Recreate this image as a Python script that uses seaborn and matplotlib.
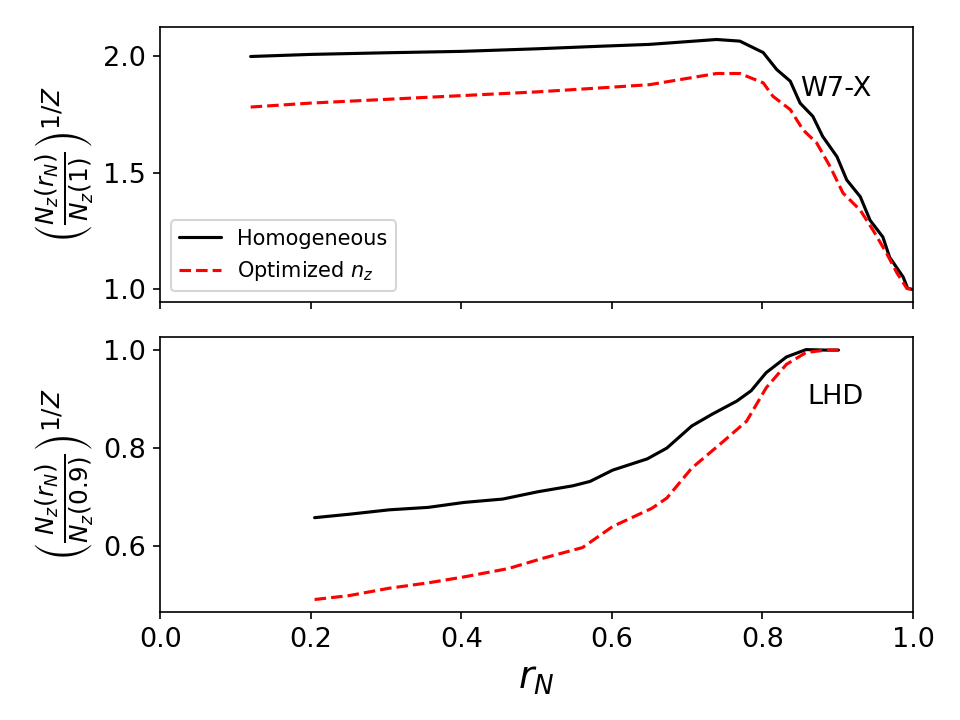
import pandas as pd
import matplotlib
matplotlib.use("Agg")
import matplotlib.pyplot as plt
import seaborn as sns

# --- W7-X (top panel) ---
r_w7x_hom = [0.12, 0.2, 0.3, 0.4, 0.5, 0.584, 0.65, 0.739, 0.770, 0.801, 0.819, 0.837, 0.850,
             0.867, 0.880, 0.899, 0.912, 0.930, 0.943, 0.960, 0.969, 0.987, 0.993, 1.0]
n_w7x_hom = [2.0, 2.009, 2.016, 2.022, 2.033, 2.044, 2.052, 2.073, 2.066, 2.017, 1.944, 1.894, 1.80,
             1.743, 1.657, 1.57, 1.47, 1.398, 1.297, 1.225, 1.138, 1.053, 1.004, 1.0]

r_w7x_opt = [0.12, 0.2, 0.3, 0.4, 0.5, 0.584, 0.65, 0.739, 0.770, 0.801, 0.814, 0.837, 0.854,
             0.872, 0.890, 0.907, 0.930, 0.947, 0.965, 0.979, 0.992, 1.0]
n_w7x_opt = [1.783, 1.80, 1.816, 1.832, 1.848, 1.865, 1.879, 1.927, 1.927, 1.887, 1.829, 1.772, 1.685,
             1.629, 1.527, 1.414, 1.34, 1.254, 1.155, 1.069, 1.004, 1.0]

# --- LHD (bottom panel) ---
r_lhd_hom = [0.205, 0.251, 0.304, 0.356, 0.403, 0.455, 0.502, 0.548, 0.571, 0.601, 0.647, 0.673,
             0.706, 0.733, 0.766, 0.785, 0.805, 0.832, 0.858, 0.884, 0.901]
n_lhd_hom = [0.658, 0.665, 0.674, 0.679, 0.689, 0.696, 0.711, 0.723, 0.732, 0.755, 0.778, 0.800,
             0.845, 0.869, 0.896, 0.917, 0.954, 0.986, 1.001, 1.0, 1.0]

r_lhd_opt = [0.205, 0.251, 0.304, 0.356, 0.403, 0.462, 0.508, 0.561, 0.601, 0.653, 0.673, 0.706,
             0.746, 0.779, 0.805, 0.832, 0.858, 0.884, 0.901]
n_lhd_opt = [0.491, 0.499, 0.514, 0.525, 0.537, 0.554, 0.575, 0.597, 0.640, 0.677, 0.698, 0.759,
             0.811, 0.855, 0.923, 0.971, 0.995, 1.0, 1.0]

labels = ['Homogeneous', r'Optimized $n_z$']


def main():
    sns.set_style("ticks")
    plt.rcParams['font.family'] = ['DejaVu Sans']
    plt.rcParams['mathtext.fontset'] = 'dejavusans'
    plt.rcParams['axes.edgecolor'] = 'black'
    plt.rcParams['text.color'] = 'black'
    plt.rcParams['axes.labelcolor'] = 'black'
    plt.rcParams['xtick.color'] = 'black'
    plt.rcParams['ytick.color'] = 'black'

    fig, (ax1, ax2) = plt.subplots(2, 1, sharex=True, figsize=(6.4, 4.8), dpi=150)
    fig.subplots_adjust(left=0.167, right=0.951, top=0.9625, bottom=0.15, hspace=0.128)

    # top panel
    sns.lineplot(x=r_w7x_hom, y=n_w7x_hom, ax=ax1, color='black', lw=1.5, label=labels[0])
    sns.lineplot(x=r_w7x_opt, y=n_w7x_opt, ax=ax1, color='red', lw=1.5, ls='--', label=labels[1])
    ax1.legend(loc='lower left', fontsize=10)
    ax1.text(0.85, 1.86, 'W7-X', fontsize=13, va='center', ha='left')
    ax1.set_ylabel(r'$\left(\frac{N_z(r_N)}{N_z(1)}\right)^{1/Z}$', fontsize=17)
    ax1.set_yticks([1.0, 1.5, 2.0])

    # bottom panel
    sns.lineplot(x=r_lhd_hom, y=n_lhd_hom, ax=ax2, color='black', lw=1.5)
    sns.lineplot(x=r_lhd_opt, y=n_lhd_opt, ax=ax2, color='red', lw=1.5, ls='--')
    ax2.text(0.86, 0.904, 'LHD', fontsize=13, va='center', ha='left')
    ax2.set_ylabel(r'$\left(\frac{N_z(r_N)}{N_z(0.9)}\right)^{1/Z}$', fontsize=17)
    ax2.set_yticks([0.6, 0.8, 1.0])
    ax2.set_xlim(0, 1.0)
    ax2.set_xlabel(r'$r_N$', fontsize=18)

    for ax in (ax1, ax2):
        ax.tick_params(labelsize=13, direction='out', length=3.5, width=0.8)
        for s in ax.spines.values():
            s.set_linewidth(0.8)

    plt.savefig('out.png', dpi=150)


if __name__ == '__main__':
    main()
